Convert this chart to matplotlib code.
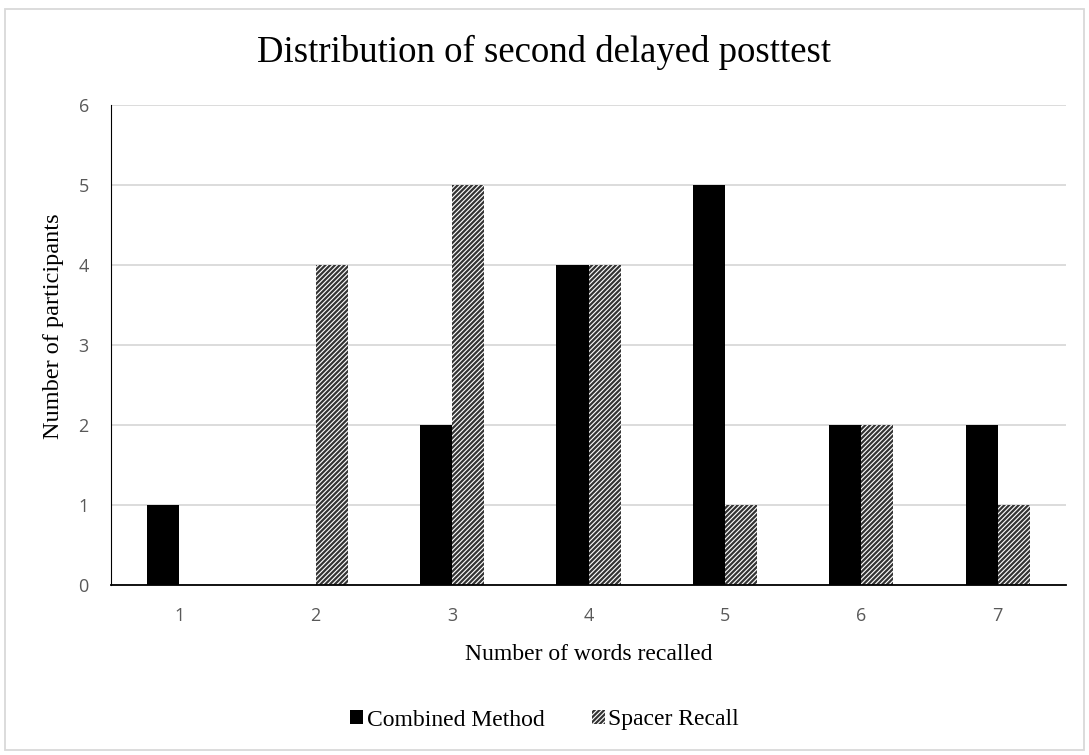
import matplotlib
matplotlib.use('Agg')
from matplotlib import pyplot as plt
from matplotlib.patches import Rectangle
import numpy as np

#Data
categories = ['1', '2', '3', '4', '5', '6', '7']
combined = [1, 0, 2, 4, 5, 2, 2]
spacer = [0, 4, 5, 4, 1, 2, 1]

plt.rcParams['hatch.linewidth'] = 1.6
plt.rcParams['hatch.color'] = '#333333'

fig = plt.figure(figsize=(10.89, 7.55), dpi=100)
ax = fig.add_axes([111/1089, 1 - 585/755, (1066 - 111)/1089, 480/755])

x = np.arange(len(categories))
w = 0.235
ax.bar(x - w/2, combined, w, color='black', label='Combined Method')
ax.bar(x + w/2, spacer, w, color='white', hatch='///////', linewidth=0, label='Spacer Recall')

ax.set_xlim(-0.5, len(categories) - 0.5)
ax.set_ylim(0, 6)
ax.set_yticks(range(0, 7))
ax.set_xticks(x)
ax.set_xticklabels(categories)
ax.yaxis.grid(True, color='#d9d9d9', linewidth=1.3)
ax.set_axisbelow(True)
for s in ['top', 'right']:
    ax.spines[s].set_visible(False)
ax.spines['left'].set_color('black')
ax.spines['bottom'].set_color('black')
ax.spines['bottom'].set_linewidth(1.3)
ax.tick_params(length=0, labelsize=13, labelcolor='#595959')
ax.tick_params(axis='x', pad=16)
ax.tick_params(axis='y', pad=16)
for lab in ax.get_xticklabels() + ax.get_yticklabels():
    lab.set_family('Open Sans')

serif = 'Liberation Serif'
ax.set_xlabel('Number of words recalled', family=serif, fontsize=17, va='center')
ax.xaxis.set_label_coords(0.5, (585 - 655) / 480)
ax.set_ylabel('Number of participants', family=serif, fontsize=17.5, va='center')
ax.yaxis.set_label_coords((54 - 111) / 955, (585 - 326) / 480)
fig.text(0.5, 1 - 52/755, 'Distribution of second delayed posttest', family=serif,
         fontsize=26.5, ha='center', va='center')

leg = fig.legend(loc='center', bbox_to_anchor=(0.5, 1 - 720/755), ncol=2, frameon=False,
                 prop={'family': serif, 'size': 17}, handlelength=0.55,
                 handleheight=0.55, handletextpad=0.15, columnspacing=2.0)

#Outer border of the chart area
fig.patches.append(Rectangle((5/1089, 1 - 750/755), 1079/1089, 741/755, transform=fig.transFigure,
                             fill=False, edgecolor='#d9d9d9', linewidth=1.3))

fig.savefig('out.png', dpi=100)
